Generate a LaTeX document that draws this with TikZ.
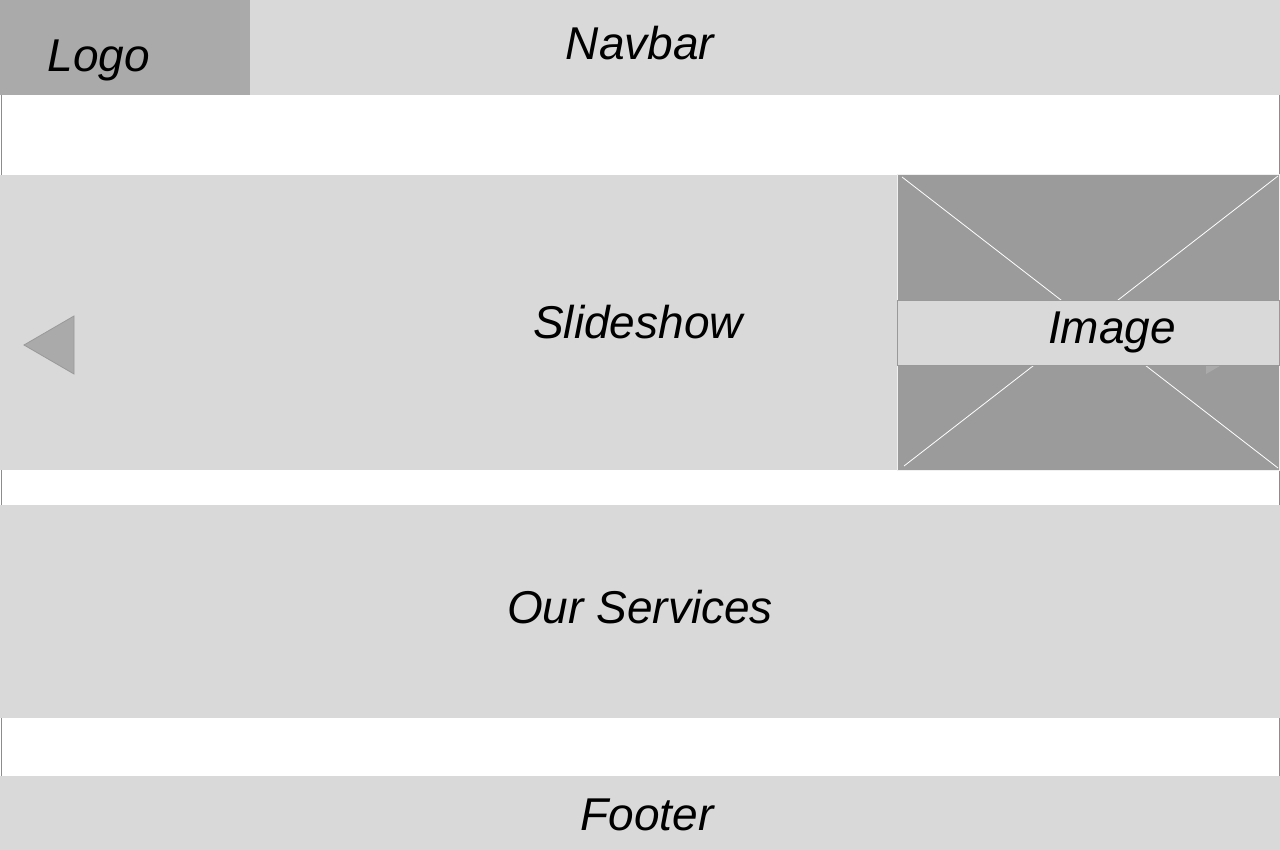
\documentclass[tikz,border=0pt]{standalone}
\usepackage{fontspec}
\setmainfont{Liberation Sans}
\begin{document}
\begin{tikzpicture}[x=1pt,y=-1pt,
  lbl/.style={anchor=base,inner sep=0pt,font=\itshape\fontsize{46}{50}\selectfont,text=black},
  arrowtri/.style={fill=trigray,draw=tribord,line width=0.8pt,line join=miter}]
\definecolor{panelgray}{HTML}{D9D9D9}
\definecolor{logogray}{HTML}{AAAAAA}
\definecolor{imggray}{HTML}{9B9B9B}
\definecolor{trigray}{HTML}{AAAAAA}
\definecolor{tribord}{HTML}{999999}
\definecolor{framegray}{HTML}{8C8C8C}
\useasboundingbox (0,0) rectangle (1280,850);
\fill[white] (0,0) rectangle (1280,850);
% outer page frame
\draw[framegray,line width=1pt] (1,95) rectangle (1279,851);
% navbar and logo
\fill[panelgray] (0,0) rectangle (1280,95);
\fill[logogray] (0,0) rectangle (250,95);
\node[lbl] (logo) at (99,72) {Logo};
\node[lbl] (navbar) at (640,60) {Navbar};
% slideshow
\fill[panelgray] (0,175) rectangle (897,470);
\draw[arrowtri] (74,316) -- (74,374) -- (24,345) -- cycle;
\node[lbl] (slideshow) at (638,338) {Slideshow};
% image placeholder
\fill[imggray] (897,174) rectangle (1280,470);
\draw[white!85!imggray,line width=0.8pt] (897.5,174.5) rectangle (1279.5,470);
\draw[white,line width=0.8pt] (902,177) -- (1278,468);
\draw[white,line width=0.8pt] (1278,176) -- (904,466);
\fill[trigray] (1206,316) -- (1206,374) -- (1256,345) -- cycle;
\fill[panelgray] (897,300) rectangle (1279,365);
\draw[tribord,line width=0.8pt] (897.5,300) rectangle (1279,365);
\node[lbl] (image) at (1112,344) {Image};
% services
\fill[panelgray] (0,505) rectangle (1280,718);
\node[lbl] (services) at (640,623) {Our Services};
% footer
\fill[panelgray] (0,776) rectangle (1280,850);
\node[lbl] (footer) at (647,830) {Footer};
\end{tikzpicture}
\end{document}
